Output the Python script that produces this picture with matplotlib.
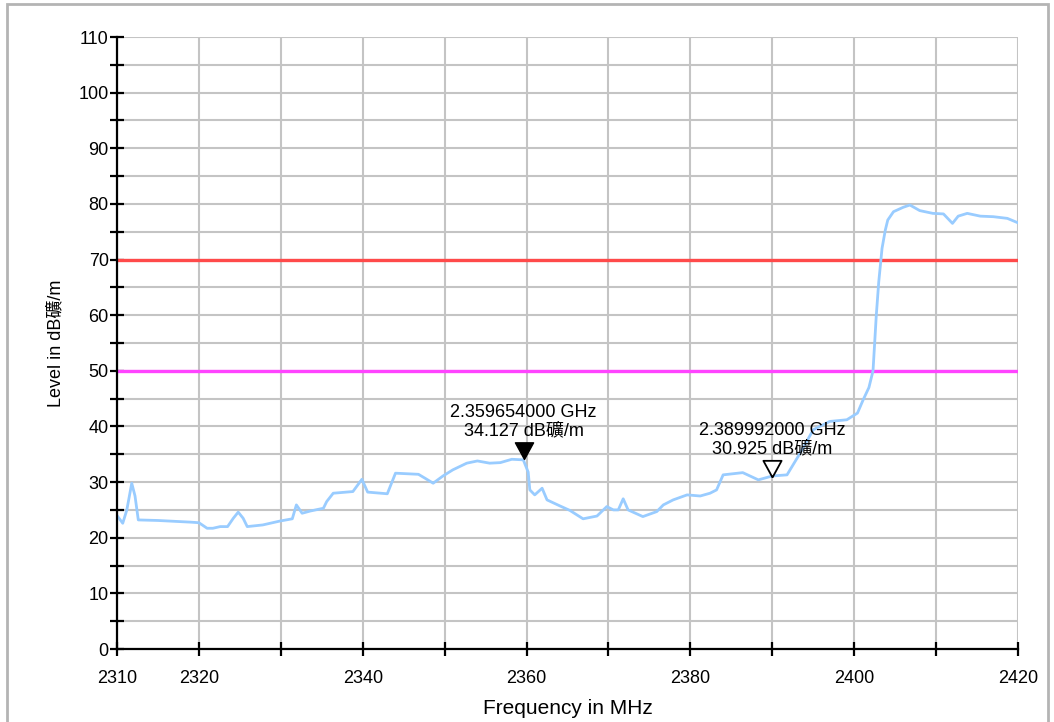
import numpy as np
import matplotlib
matplotlib.use("Agg")
import matplotlib.pyplot as plt
from matplotlib.patches import Rectangle
from matplotlib.ticker import MultipleLocator

plt.rcParams['font.family'] = ['Liberation Sans', 'Noto Sans CJK JP', 'DejaVu Sans']

# trace (MHz, dB礦/m)
freq = [2310.0, 2310.7, 2311.2, 2311.8, 2312.2, 2312.6, 2315.0, 2319.0, 2320.0,
        2321.0, 2321.7, 2322.6, 2323.5, 2324.2, 2324.8, 2325.4, 2325.9, 2327.8,
        2329.9, 2331.4, 2331.9, 2332.6, 2333.6, 2335.2, 2335.6, 2336.4, 2338.8,
        2339.9, 2340.6, 2343.0, 2344.0, 2346.8, 2347.6, 2348.6, 2349.8, 2351.0,
        2352.7, 2354.0, 2355.5, 2356.8, 2358.2, 2359.6, 2360.2, 2360.4, 2361.0,
        2361.9, 2362.5, 2364.1, 2365.3, 2366.9, 2368.6, 2369.8, 2370.6, 2371.2,
        2371.8, 2372.4, 2374.2, 2375.9, 2376.7, 2377.9, 2379.6, 2381.2, 2382.4,
        2383.2, 2384.0, 2386.4, 2388.3, 2390.0, 2391.8, 2393.4, 2395.0, 2397.0,
        2399.1, 2400.4, 2401.1, 2401.8, 2402.3, 2402.7, 2403.0, 2403.4, 2403.8,
        2404.1, 2404.8, 2406.0, 2406.8, 2408.0, 2409.6, 2410.9, 2412.0, 2412.7,
        2413.8, 2415.4, 2417.0, 2418.7, 2420.0]
level = [24.0, 22.6, 25.0, 29.8, 27.5, 23.2, 23.1, 22.8, 22.7,
         21.7, 21.7, 22.0, 22.0, 23.5, 24.6, 23.5, 22.0, 22.3,
         23.0, 23.4, 25.9, 24.4, 24.8, 25.3, 26.5, 28.0, 28.3,
         30.5, 28.2, 27.9, 31.6, 31.4, 30.7, 29.8, 31.1, 32.2,
         33.4, 33.8, 33.4, 33.5, 34.1, 34.0, 31.8, 28.6, 27.7,
         28.9, 26.8, 25.7, 24.9, 23.4, 23.9, 25.6, 25.0, 25.0,
         27.0, 25.0, 23.8, 24.7, 25.9, 26.8, 27.7, 27.5, 28.0,
         28.6, 31.3, 31.7, 30.4, 31.1, 31.3, 35.2, 39.4, 40.9,
         41.2, 42.4, 44.8, 47.0, 50.0, 60.0, 66.0, 72.0, 75.3,
         77.1, 78.6, 79.4, 79.8, 78.8, 78.3, 78.2, 76.5, 77.8,
         78.3, 77.8, 77.7, 77.4, 76.6]

limit_red = 70
limit_magenta = 50

marker_freq = [2359.654, 2389.992]
marker_level = [34.127, 30.925]
marker_text = ["2.359654000 GHz\n34.127 dB礦/m", "2.389992000 GHz\n30.925 dB礦/m"]

xtick_vals = [2310, 2320, 2340, 2360, 2380, 2400, 2420]

fig = plt.figure(figsize=(10.54, 7.22), dpi=100)
fig.patches.append(Rectangle((7 / 1054, -0.05), 1041 / 1054, 1.05 - 4 / 722,
                             transform=fig.transFigure, fill=False,
                             edgecolor='#b4b4b4', linewidth=2))
ax = fig.add_axes([117 / 1054, 73 / 722, 901 / 1054, 612 / 722])

ax.set_xlim(2310, 2420)
ax.set_ylim(0, 110)

ax.axhline(limit_red, color='#ff4a4a', lw=2.4, zorder=3)
ax.axhline(limit_magenta, color='#ff44ff', lw=2.4, zorder=3)
ax.plot(freq, level, color='#99ccff', lw=2.0, zorder=4)

# marker triangles with tip on the trace
tri = [(0, 0), (-0.6, 1.1), (0.6, 1.1), (0, 0)]
ax.plot(marker_freq[0], marker_level[0], marker=tri, ms=24, color='black', zorder=6, clip_on=False)
ax.plot(marker_freq[1], marker_level[1], marker=tri, ms=24, mfc='white', mec='black',
        mew=1.3, zorder=6, clip_on=False)
for f, v, t in zip(marker_freq, marker_level, marker_text):
    ax.annotate(t, xy=(f, v), xytext=(0, 14), textcoords='offset points',
                ha='center', va='bottom', fontsize=13, linespacing=1.15, zorder=7)

# grid
ax.xaxis.set_major_locator(MultipleLocator(10))
ax.yaxis.set_major_locator(MultipleLocator(10))
ax.yaxis.set_minor_locator(MultipleLocator(5))
ax.grid(True, which='both', color='#c4c4c4', lw=1.5, zorder=0)
ax.set_axisbelow(True)

ax.set_xticks(np.arange(2310, 2421, 10))
ax.set_xticklabels([str(v) if v in xtick_vals else '' for v in range(2310, 2421, 10)])

for s in ['top', 'right']:
    ax.spines[s].set_visible(False)
for s in ['left', 'bottom']:
    ax.spines[s].set_linewidth(1.6)
    ax.spines[s].set_zorder(5)

ax.tick_params(axis='both', which='both', direction='inout', length=10, width=1.6, color='black')
ax.tick_params(axis='y', labelsize=13, pad=1)
ax.tick_params(axis='x', labelsize=13, pad=10)

ax.set_xlabel('Frequency in MHz', fontsize=15, labelpad=9)
ax.set_ylabel('Level in dB礦/m', fontsize=13, labelpad=10)

fig.savefig('out.png', dpi=100)
